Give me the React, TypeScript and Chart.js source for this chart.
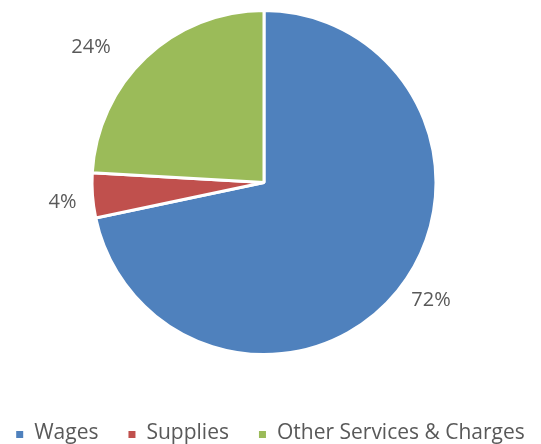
import React, { useEffect, useRef } from "react";
import { Chart, registerables } from "chart.js";

Chart.register(...registerables);

const categories = ["Wages", "Supplies", "Other Services & Charges"];
const values = [71.7, 4.2, 24.1];
const percentLabels = ["72%", "4%", "24%"];
const colors = ["#4F81BD", "#C0504D", "#9BBB59"];
const labelNudge = [
  [16, -6],
  [-7.5, 4.3],
  [-39.4, 4.8],
];

const TEXT_COLOR = "#595959";
const FONT = '"Open Sans", "DejaVu Sans", sans-serif';

const labelsPlugin = {
  id: "outsideLabels",
  afterDraw(chart: any) {
    const ctx = chart.ctx;
    const meta = chart.getDatasetMeta(0);
    ctx.save();
    ctx.font = `20px ${FONT}`;
    ctx.fillStyle = TEXT_COLOR;
    ctx.textAlign = "center";
    ctx.textBaseline = "alphabetic";
    meta.data.forEach((arc: any, i: number) => {
      const p = arc.getProps(["x", "y", "startAngle", "endAngle", "outerRadius"], true);
      const mid = (p.startAngle + p.endAngle) / 2;
      const d = p.outerRadius + 22.5;
      const x = p.x + Math.cos(mid) * d + labelNudge[i][0];
      const y = p.y + Math.sin(mid) * d + labelNudge[i][1];
      ctx.fillText(percentLabels[i], x, y + 7);
    });

    // custom legend
    ctx.font = `21px ${FONT}`;
    ctx.textAlign = "left";
    const box = 7;
    const gapBoxText = 11;
    const gapItems = 30;
    const widths = categories.map((c) => ctx.measureText(c).width);
    const total =
      widths.reduce((a: number, w: number) => a + w + box + gapBoxText, 0) +
      gapItems * (categories.length - 1);
    let x = (chart.width - total) / 2;
    const baseline = 439;
    categories.forEach((c, i) => {
      ctx.fillStyle = colors[i];
      ctx.fillRect(x, baseline - 8, box, box);
      x += box + gapBoxText;
      ctx.fillStyle = TEXT_COLOR;
      ctx.fillText(c, x, baseline);
      x += widths[i] + gapItems;
    });
    ctx.restore();
  },
};

export default function App() {
  const ref = useRef<HTMLCanvasElement | null>(null);
  useEffect(() => {
    if (!ref.current) return;
    const chart = new Chart(ref.current, {
      type: "pie",
      data: {
        labels: categories,
        datasets: [
          {
            data: values,
            backgroundColor: colors,
            borderColor: "#FFFFFF",
            borderWidth: 3,
          },
        ],
      },
      options: {
        responsive: false,
        animation: false,
        devicePixelRatio: 1,
        layout: {
          padding: { left: 90.5, right: 103.5, top: 9, bottom: 88 },
        },
        plugins: {
          legend: { display: false },
          tooltip: { enabled: false },
        },
      },
      plugins: [labelsPlugin],
    });
    return () => chart.destroy();
  }, []);
  return (
    <div style={{ position: "fixed", left: 0, top: 0, width: 541, height: 444, background: "#fff" }}>
      <canvas ref={ref} width={541} height={444} />
    </div>
  );
}
